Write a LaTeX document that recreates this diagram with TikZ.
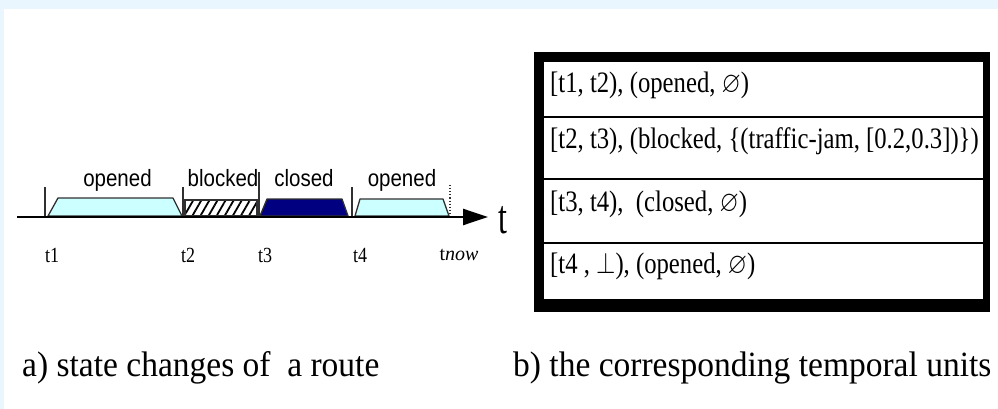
\documentclass[tikz,border=0pt]{standalone}
\usepackage{fontspec}
\usepackage{amssymb}
\setmainfont{Liberation Serif}
\newfontfamily\arialf{Liberation Sans}
\usetikzlibrary{arrows.meta,patterns.meta}
\definecolor{bgblue}{HTML}{EAF6FE}
\definecolor{lcyan}{HTML}{CCFFFF}
\definecolor{navyc}{HTML}{000080}
\definecolor{outl}{HTML}{303030}
\tikzset{
  opened/.style={fill=lcyan, draw=outl, line width=1.3pt, line join=round},
  closedst/.style={fill=navyc, draw=outl, line width=1.3pt, line join=round},
  blockedst/.style={fill=white, pattern={Lines[angle=60,distance=7pt,line width=1.8pt]}, draw=outl, line width=1.3pt},
  tick/.style={draw=outl, line width=1.1pt},
  statelab/.style={font=\arialf\fontsize{20.5}{24}\selectfont, anchor=base, inner sep=0pt},
  timelab/.style={font=\fontsize{18}{22}\selectfont, anchor=base, inner sep=0pt},
  rowtext/.style={font=\fontsize{24.7}{30}\selectfont, anchor=base west, inner sep=0pt},
  caption/.style={font=\fontsize{33.5}{40}\selectfont, anchor=base west, inner sep=0pt},
}
\begin{document}
\begin{tikzpicture}[x=1pt,y=-1pt]
\useasboundingbox (0,0) rectangle (998,409);
\fill[bgblue] (0,0) rectangle (998,409);
\fill[white] (4,9) rectangle (998,409);
% state shapes
\path[opened] (48,216) -- (58,198) -- (173,198) -- (182,216) -- cycle;
\fill[white] (185,200) rectangle (257,216);
\path[blockedst] (185,200) rectangle (257,216);
\path[closedst] (260,216) -- (267,199) -- (342,199) -- (348,216) -- cycle;
\path[opened] (355,216) -- (360,199) -- (443,199) -- (449,216) -- cycle;
% ticks
\draw[tick] (45,187) -- (45,216);
\draw[tick] (183,187) -- (183,216);
\draw[tick] (259,172) -- (259,216);
\draw[tick] (352,187) -- (352,216);
\draw[tick, dotted, line width=1.3pt] (450,185) -- (450,216);
% axis
\coordinate (axs) at (17,217);
\coordinate (axe) at (488,217);
\draw[line width=2.4pt, -{Triangle[length=25pt,width=16pt]}] (axs) -- (axe);
\node[font=\fontsize{32}{36}\selectfont, inner sep=0pt] (tl) at (502.5,220) {\scalebox{1}[1.5]{t}};
% state labels
\node[statelab] (l1) at (117.5,186) {\scalebox{1}[1.15]{opened}};
\node[statelab] (l2) at (223,186) {\scalebox{1}[1.15]{blocked}};
\node[statelab] (l3) at (304,186) {\scalebox{1}[1.15]{closed}};
\node[statelab] (l4) at (402,186) {\scalebox{1}[1.15]{opened}};
% time labels
\node[timelab] (t1) at (52,262) {\scalebox{1}[1.2]{t1}};
\node[timelab] (t2) at (188,262) {\scalebox{1}[1.2]{t2}};
\node[timelab] (t3) at (265,262) {\scalebox{1}[1.2]{t3}};
\node[timelab] (t4) at (360,262) {\scalebox{1}[1.2]{t4}};
\node[timelab, font=\fontsize{20}{24}\selectfont] (tn) at (459,260) {t\textit{now}};
% table
\fill[black] (534,52) rectangle (990,312);
\fill[white] (544,62) rectangle (983,299);
\draw[line width=2pt] (544,117) -- (983,117);
\draw[line width=2pt] (544,179) -- (983,179);
\draw[line width=2pt] (544,243) -- (983,243);
\node[rowtext] (r1) at (550,93) {\scalebox{1}[1.2]{[t1, t2), (opened, $\varnothing$)}};
\node[rowtext] (r2) at (550,148) {\scalebox{1}[1.2]{[t2, t3), (blocked, \{(traffic-jam, [0.2,0.3])\})}};
\node[rowtext] (r3) at (550,211) {\scalebox{1}[1.2]{[t3, t4),\ \ (closed, $\varnothing$)}};
\node[rowtext] (r4) at (550,273) {\scalebox{1}[1.2]{[t4 , $\perp$), (opened, $\varnothing$)}};
% captions
\node[caption] (ca) at (22,376) {\scalebox{1}[1.06]{a) state changes of\ \ a route}};
\node[caption] (cb) at (513,376) {\scalebox{1}[1.06]{b) the corresponding temporal units}};
\end{tikzpicture}
\end{document}
